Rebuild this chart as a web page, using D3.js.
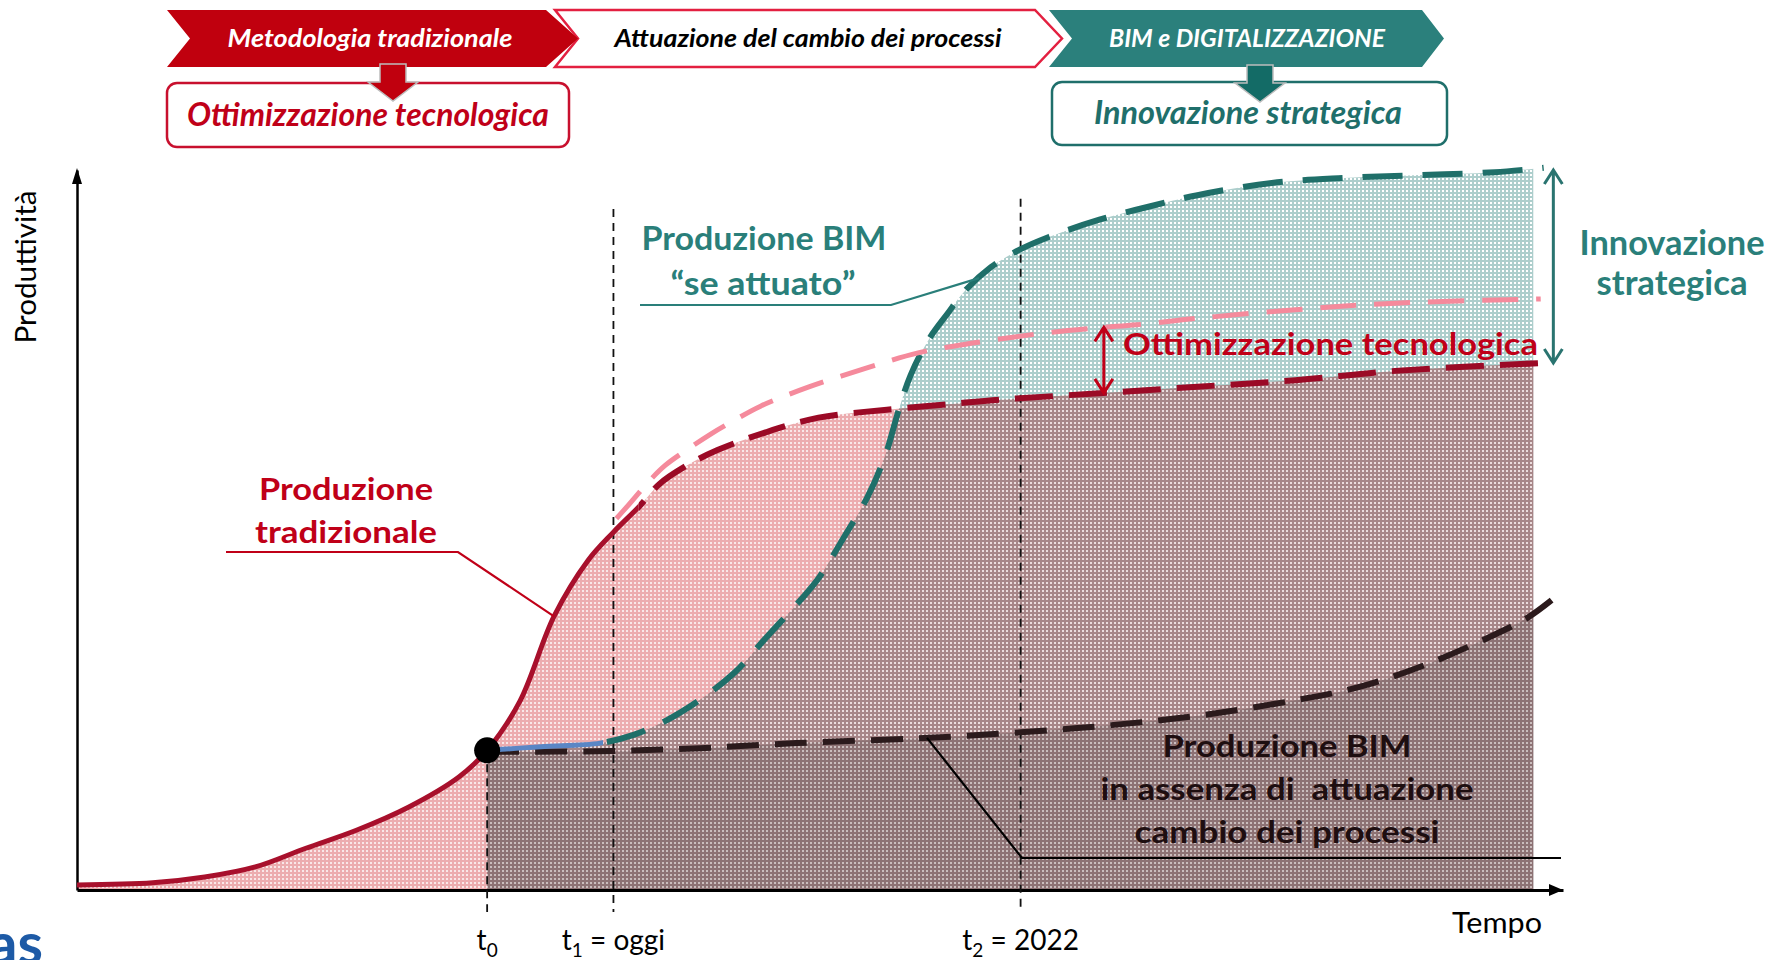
<!DOCTYPE html>
<html>
<head>
<meta charset="utf-8">
<script src="https://cdn.jsdelivr.net/npm/d3@7"></script>
<style>
  body { margin: 0; background: #fff; }
  svg { display: block; font-family: Lato, 'Open Sans', sans-serif; }
  text { white-space: pre; }
</style>
</head>
<body>
<div class="svg-container"></div>
<script>
//Values (time 0-100 on the x axis, productivity 0-100 on the y axis)
const tradTime = [0, 5.1, 8.6, 12.0, 15.4, 18.8, 22.3, 25.7, 27.6, 29.8, 32.1, 34.4, 36.1, 37.8, 39.2, 40.9, 43.1, 46.4, 49.9, 54.5, 58.8, 62.1, 68.8, 75.4, 82.0, 88.7, 98.7];
const tradProd = [0.7, 1.0, 1.8, 3.2, 5.8, 8.3, 11.5, 15.7, 19.4, 26.2, 38.0, 45.8, 49.7, 53.2, 56.4, 58.8, 61.1, 63.6, 65.6, 66.7, 67.5, 68.1, 69.0, 69.9, 70.8, 72.1, 73.2];

const optTime = [36.3, 37.0, 38.6, 39.6, 40.8, 42.7, 44.2, 46.0, 49.3, 53.0, 56.6, 60.4, 65.3, 68.8, 71.3, 75.4, 82.0, 88.7, 98.5];
const optProd = [51.6, 53.2, 57.0, 59.0, 60.8, 63.4, 65.2, 67.2, 69.9, 72.4, 74.6, 76.0, 77.4, 78.1, 78.5, 79.4, 80.6, 81.5, 82.1];

const bimTime = [27.6, 31.2, 35.2, 37.4, 39.7, 41.9, 44.2, 46.4, 48.7, 49.9, 51.7, 53.2, 54.4, 55.3, 56.1, 57.3, 58.6, 59.7, 61.5, 63.4, 65.4, 68.8, 72.1, 75.4, 80.4, 85.3, 90.4, 95.4, 98.7];
const bimProd = [19.4, 19.9, 20.4, 21.5, 23.6, 26.4, 30.1, 35.1, 40.3, 43.3, 49.3, 54.6, 60.4, 66.7, 71.5, 76.4, 80.1, 83.1, 86.5, 88.9, 90.7, 93.1, 94.9, 96.5, 98.2, 98.9, 99.3, 99.7, 100.3];

const noBimTime = [27.6, 36.0, 41.9, 48.4, 57.0, 63.5, 69.6, 75.8, 82.1, 86.3, 90.4, 94.6, 97.6, 99.5];
const noBimProd = [19.2, 19.3, 19.7, 20.4, 21.1, 21.9, 22.9, 24.3, 26.4, 28.2, 31.0, 34.7, 37.8, 40.7];

//t0, t1 = oggi, t2 = 2022
const tickTimes = [27.6, 36.1, 63.5];
const tickSubs = ['0', '1', '2'];
const tickRests = ['', ' = oggi', ' = 2022'];

const fillEnd = 98.0;      // where the shaded areas stop
const splitTrad = 37.8;    // solid -> dashed on the traditional curve
const splitBim = 35.4;     // blue solid -> teal dashed

////////////////////////////////////////////////////////
const margin = {top: 170, right: 211, bottom: 70, left: 77};
const width = 1774 - margin.left - margin.right;
const height = 960 - margin.top - margin.bottom;

const svg = d3.select('.svg-container')
    .append('svg')
    .attr('width', width + margin.left + margin.right)
    .attr('height', height + margin.top + margin.bottom);

const x = d3.scaleLinear().domain([0, 100]).range([margin.left, margin.left + width]);
const y = d3.scaleLinear().domain([0, 100]).range([margin.top + height, margin.top]);

const trad = d3.zip(tradTime, tradProd);
const opt = d3.zip(optTime, optProd);
const bim = d3.zip(bimTime, bimProd);
const noBim = d3.zip(noBimTime, noBimProd);

// linear lookup on a series
function valueAt(series, t) {
  const i = Math.min(d3.bisector(d => d[0]).left(series, t), series.length - 1);
  if (i === 0) return series[0][1];
  const a = series[i - 1], b = series[i];
  return a[1] + (b[1] - a[1]) * (t - a[0]) / (b[0] - a[0]);
}

const curve = d3.curveCatmullRom.alpha(0.5);
const area = d3.area().x(d => x(d[0])).y0(y(0)).y1(d => y(d[1])).curve(curve);
const line = d3.line().x(d => x(d[0])).y(d => y(d[1])).curve(curve);

//patterns
const defs = svg.append('defs');
function gridPattern(id, bg, bgOp, line, lineOp) {
  const p = defs.append('pattern').attr('id', id)
    .attr('width', 4).attr('height', 4).attr('patternUnits', 'userSpaceOnUse');
  if (bg) p.append('rect').attr('width', 4).attr('height', 4).attr('fill', bg).attr('fill-opacity', bgOp);
  p.append('path').attr('d', 'M0,0h4v2h-4z M0,2h2v2h-2z').attr('fill', line).attr('fill-opacity', lineOp);
}
gridPattern('tealPat', '#ffffff', 1, '#adcecc', 1);
gridPattern('pinkPat', '#dc6b70', 0.16, '#dc6b70', 0.48);
gridPattern('mixPat', '#4a5656', 0.08, '#4a5656', 0.2);
gridPattern('darkPat', '#3a3236', 0.19, '#3a3236', 0.06);

function clipRect(id, t0, t1) {
  defs.append('clipPath').attr('id', id).append('rect')
    .attr('x', x(t0)).attr('y', 0).attr('width', x(t1) - x(t0)).attr('height', 960);
}
clipRect('clipAll', 0, fillEnd);
clipRect('clipBim', tickTimes[0], fillEnd);
clipRect('clipTradSolid', -5, splitTrad);
clipRect('clipTradDash', splitTrad, 110);
clipRect('clipBimSolid', -5, splitBim);
clipRect('clipBimDash', splitBim, 110);
defs.append('clipPath').attr('id', 'clipUnderTrad').append('path').attr('d', area(trad));

svg.append('path').attr('d', area(bim)).attr('fill', 'url(#tealPat)').attr('clip-path', 'url(#clipBim)');
svg.append('path').attr('d', area(trad)).attr('fill', 'url(#pinkPat)').attr('clip-path', 'url(#clipAll)');
svg.append('g').attr('clip-path', 'url(#clipBim)')
  .append('path').attr('d', area(bim)).attr('fill', 'url(#mixPat)').attr('clip-path', 'url(#clipUnderTrad)');
svg.append('path').attr('d', area(noBim)).attr('fill', 'url(#darkPat)').attr('clip-path', 'url(#clipBim)');

//axes
svg.append('g')
    .attr('transform', `translate(0, ${y(0)})`)
    .call(d3.axisBottom(x).ticks(0).tickSizeOuter(0))
    .call(g => g.select('.domain').attr('stroke', '#000').attr('stroke-width', 3));
svg.append('g')
    .attr('transform', `translate(${x(0)}, 0)`)
    .call(d3.axisLeft(y).ticks(0).tickSizeOuter(0))
    .call(g => g.select('.domain').attr('stroke', '#000').attr('stroke-width', 2.5));
svg.append('path')
  .attr('d', `M${x(100) - 14},${y(0) - 6} L${x(100)},${y(0)} L${x(100) - 14},${y(0) + 6} Z`).attr('fill', '#000');
svg.append('path')
  .attr('d', `M${x(0) - 5},${y(100) + 14} L${x(0)},${y(100) - 2} L${x(0) + 5},${y(100) + 14} Z`).attr('fill', '#000');

//guide lines for t0, t1, t2
const guideTops = [valueAt(trad, tickTimes[0]), 94.6, 96.0];
svg.selectAll('.guide')
  .data(tickTimes)
  .enter().append('line')
    .attr('class', 'guide')
    .attr('x1', d => x(d)).attr('x2', d => x(d))
    .attr('y1', (d, i) => y(guideTops[i]))
    .attr('y2', y(0) + 22)
    .attr('stroke', '#111')
    .attr('stroke-width', 1.8)
    .attr('stroke-dasharray', '8 6');

//curves
svg.append('path').attr('d', line(noBim)).attr('fill', 'none')
  .attr('stroke', '#2b1a1c').attr('stroke-width', 6).attr('stroke-dasharray', '32 16');
svg.append('path').attr('d', line(bim)).attr('fill', 'none').attr('clip-path', 'url(#clipBimSolid)')
  .attr('stroke', '#5a86c5').attr('stroke-width', 5);
svg.append('path').attr('d', line(bim)).attr('fill', 'none').attr('clip-path', 'url(#clipBimDash)')
  .attr('stroke', '#1f6f69').attr('stroke-width', 6).attr('stroke-dasharray', '40 20');
svg.append('path').attr('d', line(trad)).attr('fill', 'none').attr('clip-path', 'url(#clipTradDash)')
  .attr('stroke', '#9b0a26').attr('stroke-width', 6).attr('stroke-dasharray', '38 16');
svg.append('path').attr('d', line(opt)).attr('fill', 'none')
  .attr('stroke', '#f58a9c').attr('stroke-width', 5).attr('stroke-dasharray', '36 18');
svg.append('path').attr('d', line(trad)).attr('fill', 'none').attr('clip-path', 'url(#clipTradSolid)')
  .attr('stroke', '#a8102c').attr('stroke-width', 5);

svg.append('circle')
  .attr('cx', x(tickTimes[0])).attr('cy', y(valueAt(trad, tickTimes[0])))
  .attr('r', 13).attr('fill', '#000');

//double arrows
function doubleArrow(t, top, bottom, color) {
  const cx = x(t), y1 = y(top), y2 = y(bottom);
  svg.append('path')
    .attr('d', `M${cx},${y1} V${y2} M${cx - 9},${y1 + 14} L${cx},${y1} L${cx + 9},${y1 + 14} M${cx - 9},${y2 - 14} L${cx},${y2} L${cx + 9},${y2 - 14}`)
    .attr('fill', 'none').attr('stroke', color).attr('stroke-width', 3);
}
doubleArrow(69.1, valueAt(opt, 69.1), valueAt(trad, 69.1), '#c00018');
doubleArrow(99.35, 100, valueAt(trad, 98.7), '#2a7470');

//tick labels
const tickLab = svg.selectAll('.tlab')
  .data(tickTimes)
  .enter().append('text')
    .attr('class', 'tlab')
    .attr('x', d => x(d))
    .attr('y', 950)
    .attr('text-anchor', 'middle')
    .attr('font-size', 28)
    .attr('fill', '#000');
tickLab.append('tspan').text('t');
tickLab.append('tspan').attr('dy', 7).attr('font-size', 19).text((d, i) => tickSubs[i]);
tickLab.append('tspan').attr('dy', -7).text((d, i) => tickRests[i]);

//text helper: fits a string into a measured width
function fitText(cx, yb, str, size, w, fill, weight, style) {
  return svg.append('text')
    .attr('x', cx - w / 2).attr('y', yb)
    .attr('font-size', size)
    .attr('font-weight', weight || 'bold')
    .attr('font-style', style || 'normal')
    .attr('fill', fill)
    .attr('textLength', w)
    .attr('lengthAdjust', 'spacingAndGlyphs')
    .text(str);
}

svg.append('text')
  .attr('transform', 'translate(36, 267) rotate(-90)')
  .attr('x', -76.5).attr('y', 0)
  .attr('font-size', 28)
  .attr('textLength', 153).attr('lengthAdjust', 'spacingAndGlyphs')
  .text('Produttività');
fitText(1497, 933, 'Tempo', 28, 90, '#000', 'normal');

//leaders + curve labels
const teal = '#2a7f7a', red = '#c00018';
svg.append('path')
  .attr('d', `M640,305 H891 L${x(60.7)},${y(valueAt(bim, 60.7))}`)
  .attr('fill', 'none').attr('stroke', teal).attr('stroke-width', 2.2);
fitText(764, 250, 'Produzione BIM', 32, 245, teal);
fitText(763, 295, '\u201cse attuato\u201d', 32, 185, teal);

svg.append('path')
  .attr('d', `M226,552 H458 L${x(32.1)},${y(valueAt(trad, 32.1))}`)
  .attr('fill', 'none').attr('stroke', red).attr('stroke-width', 2.2);
fitText(346, 500, 'Produzione', 31, 174, red);
fitText(346, 543, 'tradizionale', 31, 182, red);

fitText(1123 + 415 / 2, 355, 'Ottimizzazione tecnologica', 31, 415, red);
fitText(1672, 255, 'Innovazione', 35, 185, teal);
fitText(1672, 295, 'strategica', 35, 151, teal);

svg.append('path')
  .attr('d', `M${x(57.2)},${y(valueAt(noBim, 57.2))} L1022,858 H1561`)
  .attr('fill', 'none').attr('stroke', '#000').attr('stroke-width', 2.2);
fitText(1287, 757, 'Produzione BIM', 31, 249, '#1e0e10');
fitText(1287, 800, 'in assenza di  attuazione', 31, 373, '#1e0e10');
fitText(1287, 843, 'cambio dei processi', 31, 305, '#1e0e10');

//header banners
function chevron(x0, x1, tip, notch, y0, y1) {
  const ym = (y0 + y1) / 2;
  return `M${x0},${y0} H${x1} L${tip},${ym} L${x1},${y1} H${x0} L${x0 + notch},${ym} Z`;
}
svg.append('path').attr('d', chevron(555, 1035, 1062, 23, 10, 67))
  .attr('fill', '#fff').attr('stroke', '#e32040').attr('stroke-width', 2.5);
svg.append('path').attr('d', chevron(167, 546, 578, 23, 10, 67)).attr('fill', '#c0000e');
svg.append('path').attr('d', chevron(1049, 1422, 1444, 23, 10, 67)).attr('fill', '#2b807c');

fitText(370, 47, 'Metodologia tradizionale', 25, 285, '#fff', 'bold', 'italic');
fitText(808, 47, 'Attuazione del cambio dei processi', 25, 387, '#000', 'bold', 'italic');
fitText(1247, 47, 'BIM e DIGITALIZZAZIONE', 25, 276, '#fff', 'bold', 'italic');

svg.append('rect').attr('x', 167).attr('y', 83).attr('width', 402).attr('height', 64).attr('rx', 10)
  .attr('fill', '#fff').attr('stroke', '#c8102e').attr('stroke-width', 2.5);
svg.append('rect').attr('x', 1052).attr('y', 82).attr('width', 395).attr('height', 63).attr('rx', 10)
  .attr('fill', '#fff').attr('stroke', '#1f6f6b').attr('stroke-width', 2.5);

function downArrow(cx, y0, color) {
  svg.append('path')
    .attr('d', `M${cx - 13},${y0} h26 v18 h12 l-25,19 l-25,-19 h12 Z`)
    .attr('fill', color).attr('stroke', '#bdbdbd').attr('stroke-width', 1.5);
}
downArrow(393, 64, '#c0000e');
downArrow(1260, 65, '#136b66');

fitText(368, 126, 'Ottimizzazione tecnologica', 33, 362, '#c00018', 'bold', 'italic');
fitText(1248, 124, 'Innovazione strategica', 33, 308, '#1f6f6b', 'bold', 'italic');

//logo fragment bottom-left
svg.append('text').attr('x', -12).attr('y', 964).attr('font-size', 58).attr('font-weight', 'bold')
  .attr('fill', '#1d5aa6').text('as');
</script>
</body>
</html>
